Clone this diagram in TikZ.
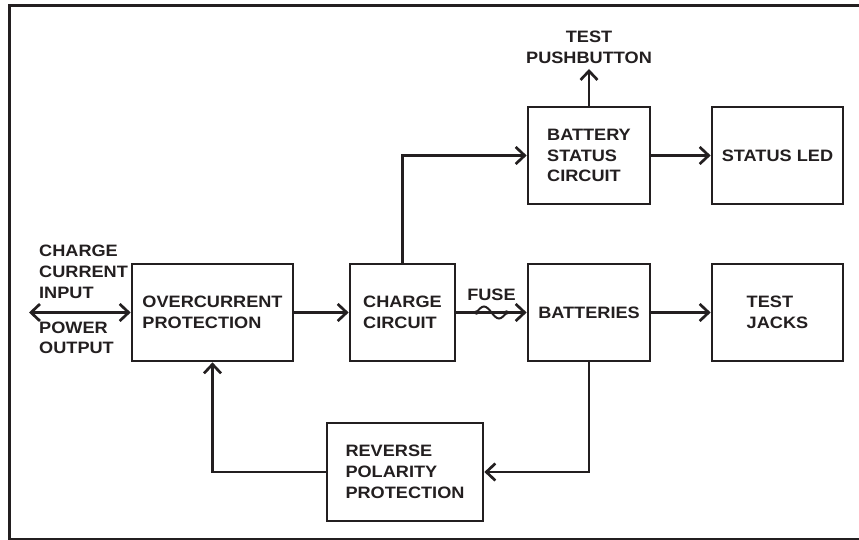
\documentclass[tikz,border=0pt]{standalone}
\usepackage{fontspec}
\setmainfont{Liberation Sans}[FakeStretch=1.1]
\usetikzlibrary{arrows.meta, positioning, calc}
\definecolor{bdInk}{HTML}{231F20}
\newcommand{\lblfont}{\fontsize{16.5}{20.7}\selectfont\bfseries}

\begin{document}
\begin{tikzpicture}[
    x=1pt, y=-1pt,
    >={Straight Barb[length=9pt, width=17pt]},
    blk/.style={draw=bdInk, line width=2.7pt, align=left, inner sep=0pt,
                minimum height=97pt, font=\lblfont, text=bdInk},
    lbl/.style={inner sep=0pt, align=left, font=\lblfont, text=bdInk},
    fw/.style={->, line width=2.7pt, draw=bdInk},
  ]
  \useasboundingbox (0,0) rectangle (859,540);
  \draw[bdInk, line width=3pt] (9,6) rectangle (900,539);

  % middle row
  \node[blk, minimum width=161pt] (ocp) at (212.5,312.5) {OVERCURRENT\\PROTECTION};
  \node[blk, minimum width=105pt] (chg) at (402.5,312.5) {CHARGE\\CIRCUIT};
  \node[blk, minimum width=122pt] (bat) at (589,312.5)   {BATTERIES};
  \node[blk, minimum width=131pt] (tjk) at (777.5,312.5) {TEST\\JACKS};

  % top row
  \node[blk, minimum width=122pt] (bsc) at (589,155.5)   {BATTERY\\STATUS\\CIRCUIT};
  \node[blk, minimum width=131pt] (led) at (777.5,155.5) {STATUS LED};

  % bottom
  \node[blk, minimum width=156pt, minimum height=98pt] (rpp) at (405,472)
    {REVERSE\\POLARITY\\PROTECTION};

  % free labels
  \node[lbl, anchor=south west] (inlbl) at (39,298.5) {CHARGE\\CURRENT\\INPUT};
  \node[lbl, anchor=north west] (outlbl) at (39,321.5) {POWER\\OUTPUT};
  \node[lbl, align=center, anchor=south] (tpb) at (589,63.5) {TEST\\PUSHBUTTON};
  \coordinate (io) at (29,312.5);

  \draw[<->, line width=2.7pt, draw=bdInk] (io) -- (ocp.west);
  \draw[fw] (ocp.east) -- (chg.west);
  \draw[fw] (chg.east) -- (bat.west);
  \draw[fw] (bat.east) -- (tjk.west);
  \draw[fw] (chg.north) |- (bsc.west);
  \draw[fw] (bsc.east) -- (led.west);
  \draw[fw, shorten >=5.5pt] (bsc.north) -- (tpb.south);
  \draw[fw] (bat.south) |- (rpp.east);
  \draw[fw] (rpp.west) -| (ocp.south);

  % fuse on the charge line
  \coordinate (fz) at ($(chg.east)!0.5!(bat.west)$);
  \draw[bdInk, line width=2pt, shift={(fz)}]
    (-15,0) sin (-7.5,-6) cos (0,0) sin (7.5,6) cos (15,0);
  \fill[bdInk] ($(fz)+(-15,0)$) circle (2.2) ($(fz)+(15,0)$) circle (2.2);
  \node[lbl, above=12pt of fz] (fuse) {FUSE};
\end{tikzpicture}
\end{document}
